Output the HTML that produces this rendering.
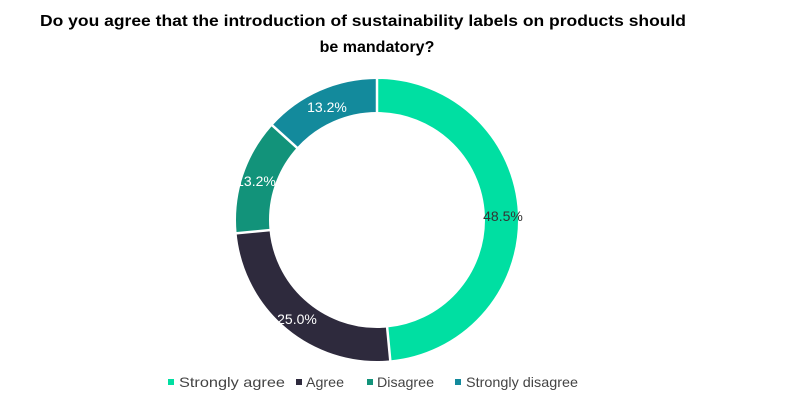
<!DOCTYPE html>
<html><head><style>
body{margin:0;background:#fff;width:800px;height:410px;overflow:hidden}
svg{display:block}
text{font-family:"Liberation Sans",sans-serif}
</style></head><body>
<svg width="800" height="410" viewBox="0 0 800 410">
<text x="363" y="26" text-anchor="middle" font-size="16" font-weight="bold" fill="#000" textLength="646" lengthAdjust="spacingAndGlyphs">Do you agree that the introduction of sustainability labels on products should</text>
<text x="377" y="52" text-anchor="middle" font-size="16" font-weight="bold" fill="#000">be mandatory?</text>
<g transform="translate(377,220) rotate(-90)" fill="none" stroke-width="33">
<circle r="124.5" stroke="#00dfa2" stroke-dasharray="379.4 782.3" stroke-dashoffset="0"/>
<circle r="124.5" stroke="#2e2a3d" stroke-dasharray="195.6 782.3" stroke-dashoffset="-379.4"/>
<circle r="124.5" stroke="#12937a" stroke-dasharray="103.3 782.3" stroke-dashoffset="-575"/>
<circle r="124.5" stroke="#138a9c" stroke-dasharray="104 782.3" stroke-dashoffset="-678.3"/>
</g>
<g transform="translate(377,220)" stroke="#fff" stroke-width="2.5">
<line x1="0" y1="-104" x2="0" y2="-146" transform="rotate(0)"/>
<line x1="0" y1="-104" x2="0" y2="-146" transform="rotate(174.6)"/>
<line x1="0" y1="-104" x2="0" y2="-146" transform="rotate(264.6)"/>
<line x1="0" y1="-104" x2="0" y2="-146" transform="rotate(312.1)"/>
</g>
<g font-size="14">
<text x="503" y="221" text-anchor="middle" fill="#333">48.5%</text>
<text x="297" y="324" text-anchor="middle" fill="#fff">25.0%</text>
<text x="256" y="186" text-anchor="middle" fill="#fff">13.2%</text>
<text x="327" y="112" text-anchor="middle" fill="#fff">13.2%</text>
</g>
<g font-size="14" fill="#444">
<rect x="168" y="379" width="6" height="6" fill="#00dfa2"/>
<text x="179" y="387" textLength="106" lengthAdjust="spacingAndGlyphs">Strongly agree</text>
<rect x="296" y="379" width="6" height="6" fill="#2e2a3d"/>
<text x="306" y="387" textLength="38" lengthAdjust="spacingAndGlyphs">Agree</text>
<rect x="367" y="379" width="6" height="6" fill="#12937a"/>
<text x="377" y="387" textLength="57" lengthAdjust="spacingAndGlyphs">Disagree</text>
<rect x="455" y="379" width="6" height="6" fill="#138a9c"/>
<text x="466" y="387" textLength="112" lengthAdjust="spacingAndGlyphs">Strongly disagree</text>
</g>
</svg>
</body></html>
